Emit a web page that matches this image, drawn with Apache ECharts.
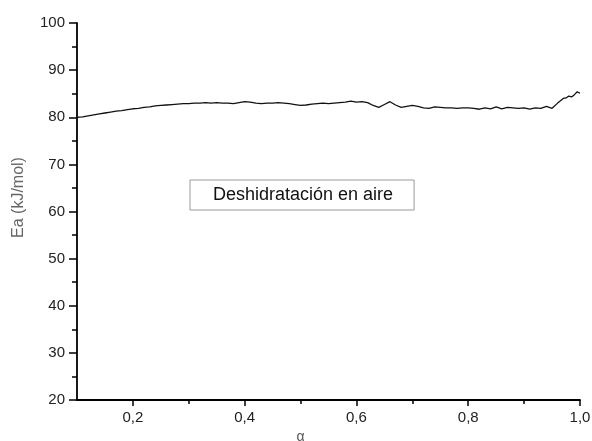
<!DOCTYPE html>
<html>
<head>
<meta charset="utf-8">
<script src="https://cdn.jsdelivr.net/npm/echarts@6/dist/echarts.min.js"></script>
<style>html,body{margin:0;padding:0;background:#fff}#c{width:592px;height:441px}</style>
</head>
<body>
<div id="c"></div>
<script>
const seriesName = 'Deshidratación en aire';
const alpha = [0.10,0.11,0.12,0.13,0.14,0.15,0.16,0.17,0.18,0.19,0.20,0.21,0.22,0.23,0.24,0.25,0.26,0.27,0.28,0.29,0.30,0.31,0.32,0.33,0.34,0.35,0.36,0.37,0.38,0.39,0.40,0.41,0.42,0.43,0.44,0.45,0.46,0.47,0.48,0.49,0.50,0.51,0.52,0.53,0.54,0.55,0.56,0.57,0.58,0.59,0.60,0.61,0.62,0.63,0.64,0.65,0.66,0.67,0.68,0.69,0.70,0.71,0.72,0.73,0.74,0.75,0.76,0.77,0.78,0.79,0.80,0.81,0.82,0.83,0.84,0.85,0.86,0.87,0.88,0.89,0.90,0.91,0.92,0.93,0.94,0.95,0.96,0.965,0.97,0.975,0.98,0.985,0.99,0.995,1.00];
const ea = [80.0,80.1,80.3,80.5,80.7,80.9,81.1,81.3,81.4,81.6,81.8,81.9,82.1,82.2,82.4,82.5,82.6,82.7,82.8,82.9,82.9,83.0,83.0,83.1,83.0,83.1,83.0,83.0,82.9,83.1,83.3,83.2,83.0,82.9,83.0,83.0,83.1,83.0,82.9,82.7,82.5,82.6,82.8,82.9,83.0,82.9,83.0,83.1,83.2,83.4,83.2,83.3,83.1,82.5,82.1,82.7,83.3,82.6,82.1,82.3,82.5,82.3,82.0,81.9,82.2,82.1,82.0,82.0,81.9,82.0,82.0,81.9,81.7,82.0,81.8,82.2,81.8,82.1,82.0,81.9,82.0,81.7,82.0,81.9,82.3,81.9,83.0,83.5,84.0,84.1,84.5,84.3,84.8,85.4,85.1];
const xMajorTicks = [0.2,0.4,0.6,0.8,1.0];
const xMinorTicks = [0.3,0.5,0.7,0.9];
const yTicks = [20,30,40,50,60,70,80,90,100];

const font = 'Liberation Sans, Arial, Helvetica, sans-serif';
const chart = echarts.init(document.getElementById('c'));
chart.setOption({
  animation: false,
  backgroundColor: '#fff',
  grid: { left: 77, right: 12, top: 23, bottom: 41, containLabel: false, outerBoundsMode: 'none' },
  legend: {
    data: [seriesName], left: 190, top: 180, icon: 'none', itemWidth: 0, itemHeight: 0,
    padding: [6, 21, 6, 18], borderColor: '#999', borderWidth: 1,
    textStyle: { fontFamily: font, fontSize: 18, color: '#111' }
  },
  xAxis: [{
    type: 'value', min: 0.1, max: 1.0, position: 'bottom',
    name: 'α', nameLocation: 'middle', nameGap: 27,
    nameTextStyle: { fontFamily: font, fontSize: 14, color: '#555', padding: [0, 56, 0, 0] },
    axisLine: { show: true, lineStyle: { color: '#000', width: 1.8 } },
    axisTick: { show: true, inside: false, length: 6, customValues: xMajorTicks, lineStyle: { color: '#000', width: 1.5 } },
    axisLabel: { customValues: xMajorTicks, margin: 10, fontFamily: font, fontSize: 15, color: '#222',
      formatter: v => v.toFixed(1).replace('.', ',') },
    splitLine: { show: false }
  }, {
    type: 'value', min: 0.1, max: 1.0, position: 'bottom',
    axisLine: { show: false },
    axisTick: { show: true, length: 4, customValues: xMinorTicks, lineStyle: { color: '#000', width: 1.5 } },
    axisLabel: { show: false },
    splitLine: { show: false }
  }],
  yAxis: {
    type: 'value', min: 20, max: 100, interval: 10,
    name: 'Ea (kJ/mol)', nameLocation: 'middle', nameGap: 50,
    nameTextStyle: { fontFamily: font, fontSize: 16, color: '#666', padding: [0, 0, 0, 28] },
    axisLine: { show: true, lineStyle: { color: '#000', width: 1.8 } },
    axisTick: { show: true, length: 8, lineStyle: { color: '#000', width: 1.5 } },
    minorTick: { show: true, splitNumber: 2, length: 5, lineStyle: { color: '#000', width: 1.5 } },
    axisLabel: { margin: 12, fontFamily: font, fontSize: 15, color: '#222',
      customValues: yTicks },
    splitLine: { show: false }
  },
  series: [{
    name: seriesName, type: 'line', xAxisIndex: 0,
    data: alpha.map((a, i) => [a, ea[i]]),
    showSymbol: false, symbol: 'none',
    lineStyle: { color: '#111', width: 1.3 }
  }]
});
</script>
</body>
</html>
